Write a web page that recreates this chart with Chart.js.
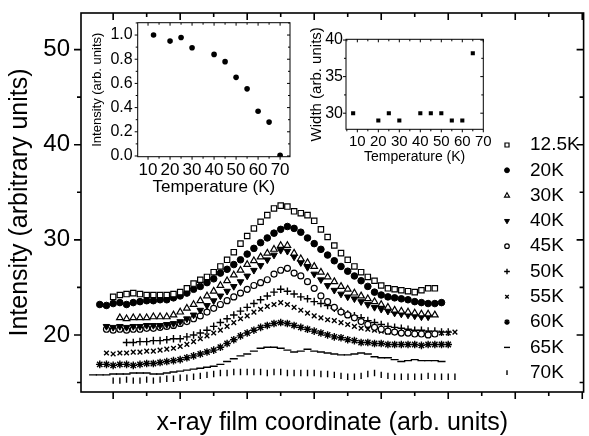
<!DOCTYPE html>
<html>
<head>
<meta charset="utf-8">
<script src="https://cdn.jsdelivr.net/npm/chart.js@4.4.1/dist/chart.umd.min.js"></script>
<style>
  html, body { margin: 0; padding: 0; background: #fff; }
  #wrap { position: relative; width: 589px; height: 436px; overflow: hidden; }
  #wrap canvas { position: absolute; }
</style>
</head>
<body>
<div id="wrap">
  <canvas id="mainChart" width="589" height="436" style="left:0;top:0"></canvas>
  <canvas id="insetIntensity" width="210" height="190" style="left:86px;top:12px"></canvas>
  <canvas id="insetWidth" width="190" height="145" style="left:305px;top:25px"></canvas>
</div>
<script>
/* ── DATA ─────────────────────────────────────────────────── */
// film coordinate grid shared by all scans (null = no point there)
const filmX = [7, 8, 9, 10, 11, 12, 13, 14, 15, 16, 17, 18, 19, 20, 21, 22, 23, 24, 25, 26,
  27, 28, 29, 30, 31, 32, 33, 34, 35, 36, 37, 38, 39, 40, 41, 42, 43, 44, 45, 46,
  47, 48, 49, 50, 51, 52, 53, 54, 55, 56, 57, 58, 59, 60, 61];

const seriesLabels = ['12.5K', '20K', '30K', '40K', '45K', '50K', '55K', '60K', '65K', '70K'];

const scan12_5K = [null, null, null,
  24.0, 24.2, 24.3, 24.4, 24.3, 24.2, 24.2, 24.2, 24.2, 24.3,
  24.5, 24.9, 25.4, 25.8, 26.1, 26.6, 27.2, 27.9, 28.7, 29.6,
  30.4, 31.2, 31.9, 32.6, 33.3, 33.6, 33.5, 33.0, 32.8, 32.6,
  32.0, 31.1, 30.3, 29.4, 28.6, 27.9, 27.2, 26.6, 26.1, 25.7,
  25.2, 24.9, 24.8, 24.7, 24.6, 24.5, 24.7, 24.9, 24.9,
  null, null, null];
const scan20K = [null, 23.2, 23.1,
  23.3, 23.4, 23.2, 23.4, 23.5, 23.6, 23.6, 23.7, 23.7, 23.9,
  24.1, 24.4, 24.8, 25.1, 25.5, 25.9, 26.5, 26.9, 27.4, 27.9,
  28.5, 29.1, 29.7, 30.2, 30.7, 31.1, 31.4, 31.2, 30.8, 30.2,
  29.6, 29.0, 28.4, 27.8, 27.2, 26.7, 26.2, 25.7, 25.1, 24.5,
  24.2, 24.0, 23.9, 23.8, 23.7, 23.5, 23.4, 23.3, 23.3, 23.4,
  null, null];
const scan30K = [null, null, null, null,
  21.8, 21.7, 21.8, 21.8, 21.8, 21.9, 21.9, 21.9, 22.1,
  22.4, 22.8, 23.2, 23.6, 24.1, 24.6, 25.2, 25.7, 26.3, 26.8,
  27.4, 27.8, 28.2, 28.6, 29.0, 29.4, 29.4, 28.6, 28.0, 27.6,
  27.2, 26.6, 26.1, 25.6, 25.1, 24.8, 24.4, 24.1, 23.8, 23.5,
  23.2, 22.9, 22.6, 22.5, 22.4, 22.3, 22.2, 22.2, 22.1,
  null, null, null];
const scan40K = [null, null, 20.9,
  20.8, 20.9, 20.8, 20.9, 20.9, 21.0, 21.0, 21.0, 21.1, 21.2,
  21.4, 21.7, 22.1, 22.6, 23.1, 23.6, 24.1, 24.6, 25.1, 25.6,
  26.2, 26.8, 27.3, 27.9, 28.4, 28.9, 28.8, 28.2, 27.6, 27.1,
  26.4, 25.8, 25.2, 24.7, 24.3, 24.0, 23.8, 23.5, 23.2, 22.9,
  22.7, 22.5, 22.3, 22.2, 22.1, 22.0, 21.9, 21.9,
  null, null, null, null];
const scan45K = [null, null, 20.6,
  20.5, 20.6, 20.5, 20.6, 20.6, 20.7, 20.7, 20.8, 20.9, 21.0,
  21.2, 21.4, 21.7, 22.0, 22.4, 22.8, 23.2, 23.6, 24.0, 24.4,
  24.8, 25.2, 25.5, 25.8, 26.4, 26.8, 27.0, 26.5, 26.2, 25.6,
  24.9, 24.1, 23.5, 22.9, 22.4, 22.1, 21.8, 21.4, 21.1, 20.8,
  20.6, 20.4, 20.3, 20.2, 20.2, 20.1, 20.1, 20.0, 20.1,
  null, null, null];
const scan50K = [null, null, null, null, null,
  19.2, 19.2, 19.3, 19.3, 19.4, 19.4, 19.5, 19.6,
  19.6, 19.8, 20.0, 20.2, 20.5, 20.9, 21.3, 21.7, 22.1, 22.5,
  22.9, 23.3, 23.7, 24.1, 24.5, 24.8, 24.6, 24.3, 24.0, 23.8,
  23.5, 23.3, 23.1, 22.8, 22.5, 22.2, 22.0, 21.8, 21.5, 21.3,
  21.1, 20.9, 20.8, 20.7, 20.6, 20.5, 20.5, 20.4, 20.4, 20.3, 20.3,
  null];
const scan55K = [null, null, 18.1,
  18.0, 18.1, 18.1, 18.2, 18.2, 18.3, 18.3, 18.4, 18.5, 18.6,
  18.8, 19.0, 19.3, 19.6, 19.9, 20.2, 20.5, 20.9, 21.3, 21.7,
  22.0, 22.4, 22.7, 23.0, 23.2, 23.4, 23.2, 22.9, 22.6, 22.3,
  22.0, 21.8, 21.6, 21.5, 21.3, 21.1, 20.9, 20.7, 20.6, 20.5,
  20.4, 20.3, 20.3, 20.2, 20.2, 20.1, 20.1, 20.2, 20.1, 20.2, 20.2, 20.3];
const scan60K = [null, 16.9, 16.9,
  16.8, 16.9, 16.9, 16.8, 16.9, 17.0, 17.0, 17.1, 17.2, 17.3,
  17.4, 17.6, 17.8, 18.0, 18.2, 18.4, 18.7, 19.1, 19.5, 19.9,
  20.2, 20.5, 20.8, 21.0, 21.2, 21.3, 21.2, 21.0, 20.8, 20.6,
  20.4, 20.2, 20.0, 19.8, 19.7, 19.5, 19.4, 19.2, 19.2, 19.1,
  19.1, 19.0, 19.0, 19.0, 19.0, 19.0, 18.9, 19.0, 19.0, 19.0, 19.0,
  null];
const scan65K = [15.8, 15.8, 15.8,
  15.9, 15.9, 15.9, 16.0, 16.0, 16.0, 15.9, 15.9, 16.0, 16.1,
  16.2, 16.3, 16.4, 16.5, 16.6, 16.7, 16.9, 17.2, 17.5, 17.8,
  18.0, 18.3, 18.6, 18.7, 18.7, 18.6, 18.4, 18.2, 18.3, 18.5,
  18.3, 18.2, 18.1, 18.0, 17.9, 17.9, 18.0, 18.1, 18.0, 17.7,
  17.6, 17.6, 17.4, 17.2, 17.3, 17.4, 17.3, 17.3, 17.3, 17.2,
  null, null];
const scan70K = [null, null, null,
  15.2, 15.2, 15.3, 15.2, 15.2, 15.3, 15.2, 15.3, 15.4, 15.4,
  15.5, 15.5, 15.6, 15.7, 15.8, 15.9, 16.0, 16.0, 16.1, 16.1,
  16.1, 16.1, 16.1, 16.0, 16.1, 16.1, 16.0, 16.0, 16.0, 16.0,
  16.0, 15.9, 15.9, 15.8, 15.7, 15.6, 15.6, 15.7, 15.9, 16.0,
  15.8, 15.7, 15.6, 15.6, 15.6, 15.6, 15.6, 15.7, 15.6, 15.6, 15.6, 15.6];

const intensityTicks = [20, 30, 40, 50];

// inset: peak intensity vs temperature
const peakTemp = [12.5, 20, 25, 30, 40, 45, 50, 55, 60, 65, 70];
const peakIntensity = [1.0, 0.95, 0.98, 0.895, 0.84, 0.78, 0.65, 0.555, 0.37, 0.28, 0.005];
const peakIntensityTicks = [0, 0.2, 0.4, 0.6, 0.8, 1.0];

// inset: peak width vs temperature
const widthTemp = [8, 20, 25, 30, 40, 45, 50, 55, 60, 65];
const peakWidth = [30, 29, 30, 29, 30, 30, 30, 29, 29, 38.2];
const widthTicks = [30, 35, 40];

const tempTicks = [10, 20, 30, 40, 50, 60, 70];

/* ── MARKER STYLES ────────────────────────────────────────── */
const markerStyles = [
  { shape: 'rect', r: 3.8, filled: false, bw: 1.2 },
  { shape: 'circle', r: 3.3, filled: true, bw: 1 },
  { shape: 'triangle', r: 3.8, filled: false, bw: 1.2 },
  { shape: 'triangle', r: 3.8, filled: true, rot: 180, bw: 1 },
  { shape: 'circle', r: 3, filled: false, bw: 1.2 },
  { shape: 'cross', r: 3.8, bw: 1.4 },
  { shape: 'crossRot', r: 3.3, bw: 1.4 },
  { shape: 'star', r: 3.8, bw: 1.4 },
  { shape: 'line', r: 4, bw: 1.4 },
  { shape: 'line', r: 3.2, rot: 90, bw: 1.4 }
];

const FONT = "'Liberation Sans', Arial, Helvetica, sans-serif";
Chart.defaults.font.family = FONT;
Chart.defaults.color = '#000';

/* ── PLUGINS ──────────────────────────────────────────────── */
function eachTick(scale, step, fn) {
  const half = step / 2;
  const first = Math.ceil(scale.min / half - 1e-9);
  const last = Math.floor(scale.max / half + 1e-9);
  for (let k = first; k <= last; k++) fn(k * half, k % 2 === 0);
}

// box frame + ticks: outward on bottom/left, inward on top/right
const frameTicks = {
  id: 'frameTicks',
  afterDraw(chart, args, o) {
    const { ctx, chartArea: a } = chart;
    const sx = chart.scales.x, sy = chart.scales.y;
    ctx.save();
    ctx.strokeStyle = '#000';
    ctx.lineWidth = o.lineWidth;
    ctx.strokeRect(a.left, a.top, a.right - a.left, a.bottom - a.top);
    ctx.beginPath();
    eachTick(sx, o.xStep, (v, major) => {
      const px = sx.getPixelForValue(v), len = major ? o.major : o.minor;
      ctx.moveTo(px, a.bottom); ctx.lineTo(px, a.bottom + len);
      ctx.moveTo(px, a.top); ctx.lineTo(px, a.top + len);
    });
    eachTick(sy, o.yStep, (v, major) => {
      const py = sy.getPixelForValue(v), len = major ? o.major : o.minor;
      ctx.moveTo(a.left, py); ctx.lineTo(a.left - len, py);
      ctx.moveTo(a.right, py); ctx.lineTo(a.right - len, py);
    });
    ctx.stroke();
    ctx.restore();
  }
};

// marker list drawn inside the plot, right side
const markerLegend = {
  id: 'markerLegend',
  afterDraw(chart, args, o) {
    const { ctx } = chart;
    ctx.save();
    ctx.font = o.fontSize + 'px ' + FONT;
    ctx.textBaseline = 'middle';
    chart.data.datasets.forEach((ds, i) => {
      const y = o.top + i * o.rowGap;
      ctx.fillStyle = ds.pointBackgroundColor;
      ctx.strokeStyle = ds.pointBorderColor;
      ctx.lineWidth = ds.pointBorderWidth;
      Chart.helpers.drawPoint(ctx, {
        pointStyle: ds.pointStyle,
        radius: ds.pointRadius * 0.75,
        rotation: ds.pointRotation,
        borderWidth: ds.pointBorderWidth
      }, o.markerX, y);
      ctx.fillStyle = '#000';
      ctx.fillText(ds.label, o.textX, y);
    });
    ctx.restore();
  }
};

function fixedTicks(list) {
  return s => { s.ticks = list.map(v => ({ value: v })); };
}
function noPad(s) { s.paddingLeft = s.paddingRight = s.paddingTop = s.paddingBottom = 0; }

/* ── MAIN CHART ───────────────────────────────────────────── */
const scans = [scan12_5K, scan20K, scan30K, scan40K, scan45K, scan50K, scan55K, scan60K, scan65K, scan70K];

new Chart(document.getElementById('mainChart'), {
  type: 'scatter',
  data: {
    datasets: scans.map((vals, i) => ({
      label: seriesLabels[i],
      data: vals.map((y, j) => ({ x: filmX[j], y })).filter(p => p.y !== null),
      pointStyle: markerStyles[i].shape,
      pointRadius: markerStyles[i].r,
      pointRotation: markerStyles[i].rot || 0,
      pointBackgroundColor: markerStyles[i].filled ? '#000' : '#fff',
      pointBorderColor: '#000',
      pointBorderWidth: markerStyles[i].bw,
      showLine: false
    }))
  },
  options: {
    responsive: false,
    animation: false,
    events: [],
    layout: { padding: { top: 13, right: 1, left: 0, bottom: 0 } },
    plugins: {
      legend: { display: false },
      tooltip: { enabled: false },
      frameTicks: { lineWidth: 1.6, major: 7, minor: 4, xStep: 10, yStep: 10 },
      markerLegend: { markerX: 507, textX: 530, top: 145, rowGap: 25.3, fontSize: 19 }
    },
    scales: {
      x: {
        type: 'linear', min: 5.2, max: 80.2,
        afterFit: s => { s.height = 44; noPad(s); },
        grid: { display: false, drawTicks: false },
        border: { display: false },
        ticks: { display: false },
        title: { display: true, text: 'x-ray film coordinate (arb. units)', font: { size: 25, lineHeight: 1 }, padding: 0 }
      },
      y: {
        min: 14, max: 53.85,
        afterBuildTicks: fixedTicks(intensityTicks),
        afterFit: s => { s.width = 81; noPad(s); },
        grid: { display: false, drawTicks: false },
        border: { display: false },
        ticks: { font: { size: 24 }, padding: 11 },
        title: { display: true, text: 'Intensity (arbitrary units)', font: { size: 25 }, padding: { top: 5 } }
      }
    }
  },
  plugins: [frameTicks, markerLegend]
});

/* ── INSET: INTENSITY vs T ────────────────────────────────── */
new Chart(document.getElementById('insetIntensity'), {
  type: 'scatter',
  data: {
    datasets: [{
      data: peakTemp.map((t, i) => ({ x: t, y: peakIntensity[i] })),
      pointStyle: 'circle', pointRadius: 2.8,
      pointBackgroundColor: '#000', pointBorderColor: '#000', pointBorderWidth: 0
    }]
  },
  options: {
    responsive: false,
    animation: false,
    events: [],
    layout: { padding: { top: 10.7, right: 6, left: 0, bottom: 0 } },
    plugins: {
      legend: { display: false },
      tooltip: { enabled: false },
      frameTicks: { lineWidth: 1, major: 3, minor: 2, xStep: 10, yStep: 0.2 }
    },
    scales: {
      x: {
        type: 'linear', min: 5.3, max: 74.5,
        afterBuildTicks: fixedTicks(tempTicks),
        afterFit: s => { s.height = 45.3; noPad(s); },
        grid: { display: false, drawTicks: false },
        border: { display: false },
        ticks: { font: { size: 17 }, padding: 3, maxRotation: 0, autoSkip: false },
        title: { display: true, text: 'Temperature (K)', font: { size: 17 }, padding: { top: 2.8 } }
      },
      y: {
        min: -0.006, max: 1.102,
        afterBuildTicks: fixedTicks(peakIntensityTicks),
        afterFit: s => { s.width = 51.7; noPad(s); },
        grid: { display: false, drawTicks: false },
        border: { display: false },
        ticks: { font: { size: 16 }, padding: 5, callback: v => v.toFixed(1) },
        title: { display: true, text: 'Intensity (arb. units)', font: { size: 13 }, padding: { top: 3.2 } }
      }
    }
  },
  plugins: [frameTicks]
});

/* ── INSET: WIDTH vs T ────────────────────────────────────── */
new Chart(document.getElementById('insetWidth'), {
  type: 'scatter',
  data: {
    datasets: [{
      data: widthTemp.map((t, i) => ({ x: t, y: peakWidth[i] })),
      pointStyle: 'rect', pointRadius: 2.9,
      pointBackgroundColor: '#000', pointBorderColor: '#000', pointBorderWidth: 0
    }]
  },
  options: {
    responsive: false,
    animation: false,
    events: [],
    layout: { padding: { top: 14.3, right: 11.7, left: 0, bottom: 0 } },
    plugins: {
      legend: { display: false },
      tooltip: { enabled: false },
      frameTicks: { lineWidth: 1, major: 3, minor: 2, xStep: 10, yStep: 5 }
    },
    scales: {
      x: {
        type: 'linear', min: 4.6, max: 70,
        afterBuildTicks: fixedTicks(tempTicks),
        afterFit: s => { s.height = 40.7; noPad(s); },
        grid: { display: false, drawTicks: false },
        border: { display: false },
        ticks: { font: { size: 15 }, padding: 4, maxRotation: 0, autoSkip: false },
        title: { display: true, text: 'Temperature (K)', font: { size: 14 }, padding: { top: 3.6 } }
      },
      y: {
        min: 27.8, max: 40.1,
        afterBuildTicks: fixedTicks(widthTicks),
        afterFit: s => { s.width = 41; noPad(s); },
        grid: { display: false, drawTicks: false },
        border: { display: false },
        ticks: { font: { size: 16 }, padding: 3 },
        title: { display: true, text: 'Width (arb. units)', font: { size: 15 }, padding: { top: 3 } }
      }
    }
  },
  plugins: [frameTicks]
});
</script>
</body>
</html>
